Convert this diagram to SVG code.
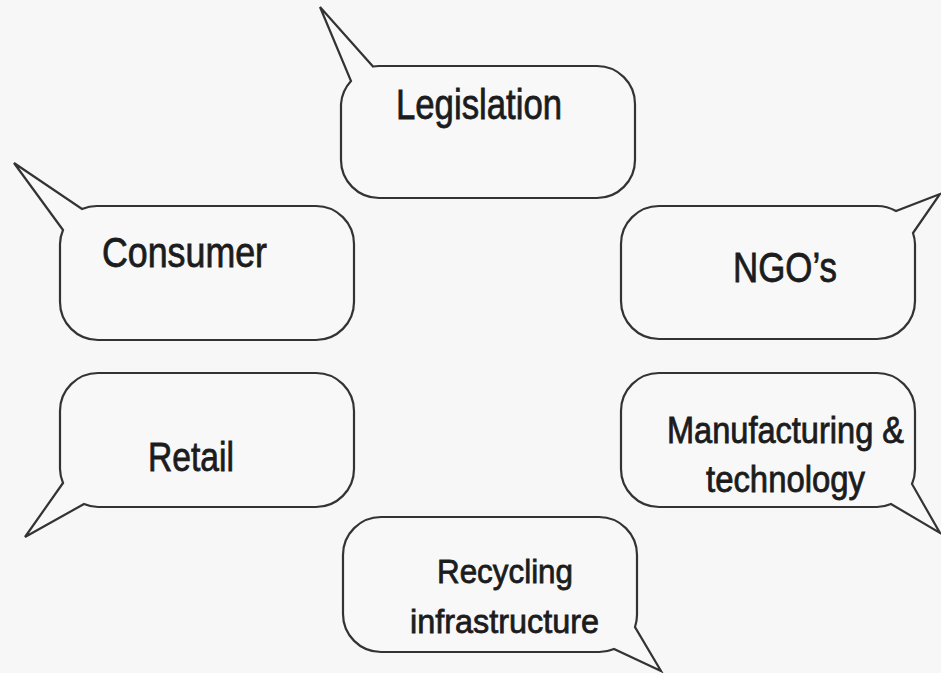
<svg xmlns="http://www.w3.org/2000/svg" width="941" height="673" viewBox="0 0 941 673">
  <style>
    .bubble { fill: #f8f8f8; stroke: #333333; stroke-width: 2.2; stroke-linejoin: miter; }
    .label { font-family: "Liberation Sans", Arial, sans-serif; fill: #1c1c1c; stroke: #1c1c1c; stroke-width: 0.8; }
  </style>
  <rect x="0" y="0" width="941" height="673" fill="#f7f7f7"/>

  <g id="legislation">
    <path class="bubble" d="M373,66.5 A38 38 0 0 1 379,66 H597 A38 38 0 0 1 635,104 V160 A38 38 0 0 1 597,198 H379 A38 38 0 0 1 341,160 V104 A38 38 0 0 1 351,81 L320,7 Z"/>
    <text class="label" x="396" y="119" font-size="43" textLength="166" lengthAdjust="spacingAndGlyphs">Legislation</text>
  </g>

  <g id="consumer">
    <path class="bubble" d="M82,209 A38 38 0 0 1 98,206 H316 A38 38 0 0 1 354,244 V302 A38 38 0 0 1 316,340 H98 A38 38 0 0 1 60,302 V244 A38 38 0 0 1 63,230 L14,163 Z"/>
    <text class="label" x="102" y="267" font-size="42" textLength="165" lengthAdjust="spacingAndGlyphs">Consumer</text>
  </g>

  <g id="ngos">
    <path class="bubble" d="M659,206 H877 A38 38 0 0 1 896,211 L940,194 L913,233 A38 38 0 0 1 915,244 V301 A38 38 0 0 1 877,339 H659 A38 38 0 0 1 621,301 V244 A38 38 0 0 1 659,206 Z"/>
    <text class="label" x="733" y="282" font-size="42" textLength="104" lengthAdjust="spacingAndGlyphs">NGO’s</text>
  </g>

  <g id="retail">
    <path class="bubble" d="M98,373 H316 A38 38 0 0 1 354,411 V469 A38 38 0 0 1 316,507 H98 A38 38 0 0 1 84,504 L25,537 L63,483 A38 38 0 0 1 60,469 V411 A38 38 0 0 1 98,373 Z"/>
    <text class="label" x="148" y="471" font-size="41" textLength="86" lengthAdjust="spacingAndGlyphs">Retail</text>
  </g>

  <g id="manufacturing">
    <path class="bubble" d="M659,373 H877 A38 38 0 0 1 915,411 V469 A38 38 0 0 1 912,484 L940,533 L891,504 A38 38 0 0 1 877,507 H659 A38 38 0 0 1 621,469 V411 A38 38 0 0 1 659,373 Z"/>
    <text class="label" x="667" y="443" font-size="36" textLength="237" lengthAdjust="spacingAndGlyphs">Manufacturing &amp;</text>
    <text class="label" x="706" y="492" font-size="36" textLength="159" lengthAdjust="spacingAndGlyphs">technology</text>
  </g>

  <g id="recycling">
    <path class="bubble" d="M381,517 H599 A38 38 0 0 1 637,555 V614 A38 38 0 0 1 635,627 L661,671 L614,649 A38 38 0 0 1 599,652 H381 A38 38 0 0 1 343,614 V555 A38 38 0 0 1 381,517 Z"/>
    <text class="label" x="437" y="583" font-size="34" textLength="136" lengthAdjust="spacingAndGlyphs">Recycling</text>
    <text class="label" x="410" y="633" font-size="34" textLength="189" lengthAdjust="spacingAndGlyphs">infrastructure</text>
  </g>

  <g id="connectors"/>
</svg>
